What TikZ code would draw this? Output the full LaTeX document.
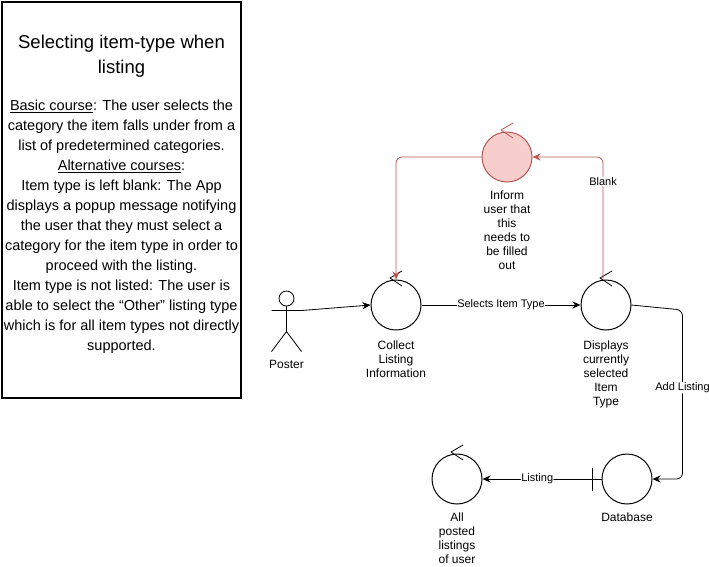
\documentclass[tikz,border=0pt]{standalone}
\usepackage{fontspec}
\setmainfont{Liberation Sans}
\usetikzlibrary{positioning, arrows.meta}
\definecolor{redline}{HTML}{B85450}
\definecolor{pinkfill}{HTML}{F8CECC}
\tikzset{>={Stealth[length=8pt, width=7pt, inset=2.5pt]}}
\tikzset{
    ctrl/.style={circle, draw, line width=1pt, minimum size=50pt, inner sep=0pt},
    lbl/.style={font=\fontsize{12}{14}\selectfont, align=center, inner sep=0pt},
    elbl/.style={font=\fontsize{11}{13}\selectfont, text=black, fill=white, inner sep=0.5pt},
    flow/.style={->, line width=0.8pt, rounded corners=6pt},
}

\begin{document}
\begin{tikzpicture}[x=1pt, y=-1pt]
    \useasboundingbox (0,0) rectangle (709,566);

    % use case description
    \draw[line width=2pt] (1.5,1.5) rectangle (241,398);
    \node[font=\fontsize{18.5}{25}\selectfont, align=center, inner sep=0pt] (title) at (121.5,56)
        {Selecting item-type when\\listing};
    \node[font=\fontsize{14.5}{20}\selectfont, align=center, inner sep=0pt] (desc) at (121.5,226.5)
        {\underline{Basic course}: The user selects the\\
         category the item falls under from a\\
         list of predetermined categories.\\
         \underline{Alternative courses}:\\
         Item type is left blank: The App\\
         displays a popup message notifying\\
         the user that they must select a\\
         category for the item type in order to\\
         proceed with the listing.\\
         Item type is not listed: The user is\\
         able to select the “Other” listing type\\
         which is for all item types not directly\\
         supported.};

    % actor
    \coordinate (poster) at (286.5,298.5);
    \coordinate (hip) at ([shift={(0,33)}]poster);
    \coordinate (posterR) at ([shift={(15,12)}]poster);
    \draw[line width=0.8pt] (poster) circle (7.5pt)
        ([shift={(0,7.5)}]poster) -- (hip)
        (hip) -- ([shift={(-15,53)}]poster)
        (hip) -- ([shift={(15,53)}]poster)
        ([shift={(-15,12)}]poster) -- (posterR);
    \node[lbl, below=62pt of poster] (posterlbl) {Poster};

    % controls and entity
    \node[ctrl] (collect) at (396,305) {};
    \node[ctrl, draw=redline, fill=pinkfill] (inform) at (507,157) {};
    \node[ctrl] (displays) at (606,305) {};
    \node[ctrl] (posted) at (457,479) {};
    \node[ctrl] (database) at (627,479) {};

    \foreach \n/\c in {collect/black, inform/redline, displays/black, posted/black}
        \draw[\c, line width=0.8pt] ([shift={(6,-34)}]\n.center) -- ([shift={(-6,-27)}]\n.center) -- ([shift={(6,-19)}]\n.center);

    \coordinate (dbbar) at ([xshift=-35pt]database.center);
    \draw[line width=0.8pt] ([yshift=11.5pt]dbbar) -- ([yshift=-11.5pt]dbbar)
        (dbbar) -- (database.west);

    \node[lbl, below=10pt of collect] (collectlbl) {Collect\\Listing\\Information};
    \node[lbl, below=8pt of inform] (informlbl) {Inform\\user that\\this\\needs to\\be filled\\out};
    \node[lbl, below=10pt of displays] (displayslbl) {Displays\\currently\\selected\\Item\\Type};
    \node[lbl, below=8pt of posted] (postedlbl) {All\\posted\\listings\\of user};
    \node[lbl, below=8pt of database] (databaselbl) {Database};

    % connectors
    \draw[flow] (posterR) -- (collect.west);
    \draw[flow] (collect.east) -- node[elbl] {Selects Item Type} (displays.west);
    \draw[flow, redline] ([xshift=-3pt]displays.north) |- node[elbl, pos=0.4] {Blank} (inform.east);
    \draw[flow, redline] (inform.west) -| (collect.north);
    \draw[flow] (displays.east) -- ++(51,5) |- node[elbl, pos=0.23] {Add Listing} (database.east);
    \draw[flow] (dbbar) -- node[elbl] {Listing} (posted.east);
\end{tikzpicture}
\end{document}
